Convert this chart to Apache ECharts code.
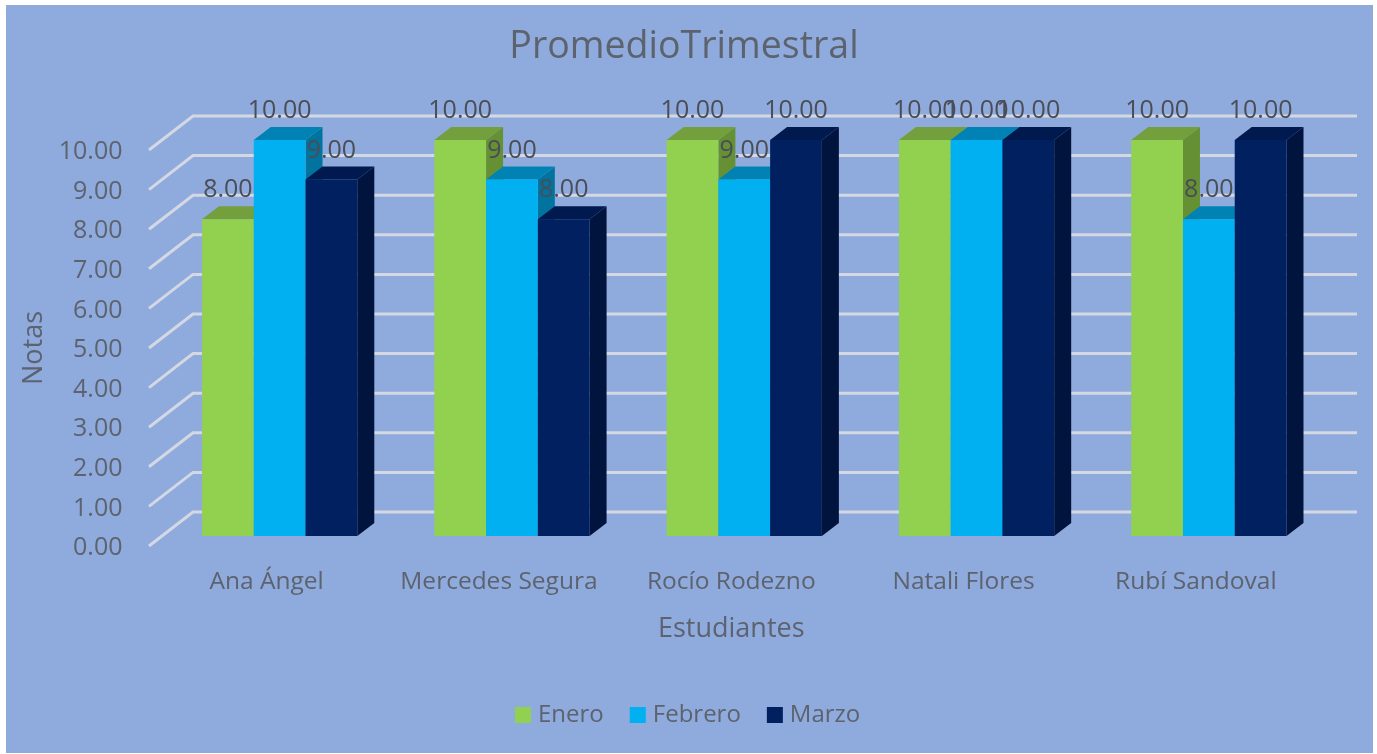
<!DOCTYPE html>
<html>
<head>
<meta charset="utf-8">
<title>PromedioTrimestral</title>
<script src="https://cdn.jsdelivr.net/npm/echarts@6/dist/echarts.min.js"></script>
<style>
  html, body { margin: 0; padding: 0; background: #fff; }
  #panel { position: absolute; left: 6px; top: 5px; width: 1367px; height: 748px; background: #8faadc; }
  #chart { position: absolute; left: 0; top: 0; width: 1377px; height: 754px; }
</style>
</head>
<body>
<div id="panel"></div>
<div id="chart"></div>
<script>
const estudiantes = ['Ana Ángel', 'Mercedes Segura', 'Rocío Rodezno', 'Natali Flores', 'Rubí Sandoval'];
const enero = [8, 10, 10, 10, 10];
const febrero = [10, 9, 9, 10, 8];
const marzo = [9, 8, 10, 10, 10];
const ticks = [0, 1, 2, 3, 4, 5, 6, 7, 8, 9, 10];

const textColor = '#5d636e';
const fontName = '"Open Sans", sans-serif';

// depth of the fake 3d bars, in pixels
const depthX = 17;
const depthY = 13;

function barSeries(name, values, index, front, top, side) {
  return {
    name: name,
    type: 'custom',
    coordinateSystem: 'cartesian2d',
    itemStyle: { color: front },
    clip: false,
    data: values.map((v, i) => [i, v]),
    renderItem: function (params, api) {
      const val = api.value(1);
      const p = api.coord([api.value(0), val]);
      const base = api.coord([api.value(0), 0]);
      const w = api.size([1, 0])[0] * 0.2228;
      const x = p[0] + (index - 1.5) * w;
      const y = p[1];
      return {
        type: 'group',
        children: [
          {
            type: 'polygon',
            shape: { points: [[x + w, y], [x + w + depthX, y - depthY], [x + w + depthX, base[1] - depthY], [x + w, base[1]]] },
            style: { fill: side }
          },
          {
            type: 'polygon',
            shape: { points: [[x, y], [x + depthX, y - depthY], [x + w + depthX, y - depthY], [x + w, y]] },
            style: { fill: top }
          },
          {
            type: 'rect',
            shape: { x: x, y: y, width: w, height: base[1] - y },
            style: { fill: front }
          },
          {
            type: 'text',
            z2: 100,
            style: {
              x: x + w / 2,
              y: y - 29,
              text: val.toFixed(2),
              fill: '#4a4d55',
              font: '25px ' + fontName,
              align: 'center',
              verticalAlign: 'middle'
            }
          }
        ]
      };
    }
  };
}

const chart = echarts.init(document.getElementById('chart'), null, { renderer: 'canvas' });

chart.setOption({
  animation: false,
  backgroundColor: 'transparent',
  title: {
    text: 'PromedioTrimestral',
    left: 679,
    top: 23,
    textAlign: 'center',
    textStyle: { color: textColor, fontSize: 37.5, fontWeight: 'normal', fontFamily: fontName }
  },
  legend: {
    left: 510,
    top: 698,
    itemWidth: 16,
    itemHeight: 16,
    itemGap: 26,
    icon: 'rect',
    data: ['Enero', 'Febrero', 'Marzo'],
    textStyle: { color: textColor, fontSize: 24, fontFamily: fontName, padding: [0, 0, 0, 2] }
  },
  grid: { left: 163.5, top: 140, width: 1161.5, height: 396 },
  xAxis: {
    type: 'category',
    data: estudiantes,
    name: 'Estudiantes',
    nameLocation: 'middle',
    nameGap: 80,
    nameTextStyle: { color: textColor, fontSize: 27, fontFamily: fontName, padding: [0, 26, 0, 0] },
    axisLine: { show: false },
    axisTick: { show: false },
    axisLabel: { color: textColor, fontSize: 24.5, fontFamily: fontName, margin: 34, interval: 0, padding: [0, 26, 0, 0] }
  },
  yAxis: {
    type: 'value',
    min: 0,
    max: 10,
    interval: 1,
    name: 'Notas',
    nameLocation: 'middle',
    nameGap: 115,
    nameTextStyle: { color: textColor, fontSize: 27, fontFamily: fontName, padding: [0, 20, 0, 0] },
    axisLine: { show: false },
    axisTick: { show: false },
    splitLine: { show: false },
    axisLabel: {
      color: textColor,
      fontSize: 25,
      fontFamily: fontName,
      margin: 41,
      verticalAlign: 'top',
      lineHeight: 24,
      formatter: v => v.toFixed(2)
    }
  },
  series: [
    {
      // wall gridlines: short diagonal on the side, long line along the back
      name: 'rejilla',
      type: 'custom',
      z: 1,
      silent: true,
      clip: false,
      data: ticks.map(t => [0, t]),
      renderItem: function (params, api) {
        const y = api.coord([0, api.value(1)])[1];
        const left = params.coordSys.x;
        const right = left + params.coordSys.width;
        return {
          type: 'polyline',
          shape: { points: [[left - 14.5, y + 10], [left + 29.5, y - 24], [right + 32, y - 24]] },
          style: { fill: 'none', stroke: '#d3d8e3', lineWidth: 3 }
        };
      }
    },
    barSeries('Enero', enero, 0, '#92d050', '#739f3d', '#659134'),
    barSeries('Febrero', febrero, 1, '#00b0f0', '#0083b4', '#00749f'),
    barSeries('Marzo', marzo, 2, '#002060', '#001a50', '#00143e')
  ]
});

window.addEventListener('resize', function () {
  chart.resize();
});
</script>
</body>
</html>
